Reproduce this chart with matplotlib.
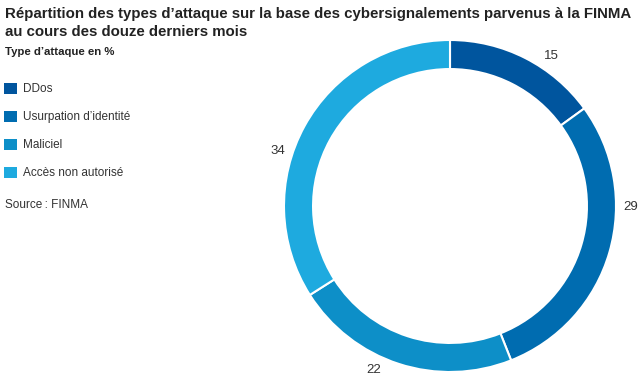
import numpy as np
import matplotlib.pyplot as plt
from matplotlib.patches import Patch

categories = ["DDos", "Usurpation d\u2019identit\u00e9", "Maliciel", "Acc\u00e8s non autoris\u00e9"]
shares = [15, 29, 22, 34]
colors = ["#00559E", "#006CB0", "#0D8FC8", "#1EAADF"]

title = ("R\u00e9partition des types d\u2019attaque sur la base des cybersignalements parvenus \u00e0 la FINMA\n"
         "au cours des douze derniers mois")
subtitle = "Type d\u2019attaque en %"
source = "Source\u2009: FINMA"

# nudges of the value labels along the ring (degrees, counter-clockwise positive)
label_nudge = [-7, 16, -7, 11]

body = ["Liberation Sans", "DejaVu Sans"]
plt.rcParams["font.family"] = body

W, H = 640, 382
fig = plt.figure(figsize=(W / 100, H / 100), dpi=100)

cx, cy, r = 450, 206, 166
ax = fig.add_axes([(cx - r) / W, (H - cy - r) / H, 2 * r / W, 2 * r / H])
wedges, texts = ax.pie(
    shares,
    colors=colors,
    labels=[str(v) for v in shares],
    startangle=90,
    counterclock=False,
    wedgeprops=dict(width=0.175, edgecolor="white", linewidth=1.5),
    textprops=dict(fontsize=9.5, color="#333333"),
)
for w, t, nudge in zip(wedges, texts, label_nudge):
    ang = np.deg2rad((w.theta1 + w.theta2) / 2 + nudge)
    t.set_position((1.09 * np.cos(ang), 1.09 * np.sin(ang)))
    t.set_ha("center")
    t.set_va("center")
ax.set_xlim(-1, 1)
ax.set_ylim(-1, 1)
ax.set_aspect("equal")

fig.text(5 / W, 1 - 7 / H, title, ha="left", va="top", fontsize=10.8,
         fontweight="bold", color="#222222", linespacing=1.35)
fig.text(5 / W, 1 - 47 / H, subtitle, ha="left", va="top", fontsize=8.2,
         fontweight="bold", color="#222222")

handles = [Patch(facecolor=c, edgecolor="none") for c in colors]
fig.legend(handles, categories, loc="upper left", bbox_to_anchor=(0 / W, 1 - 79 / H),
           frameon=False, handlelength=1.1, handleheight=1.1,
           handletextpad=0.55, labelspacing=1.3, borderaxespad=0, borderpad=0.3,
           prop=dict(size=8.5))
for t in fig.legends[0].get_texts():
    t.set_color("#333333")

fig.text(5 / W, 1 - 205 / H, source, ha="left", va="center", fontsize=8.5,
         color="#333333")

fig.savefig("out.png", dpi=100, facecolor="white")
